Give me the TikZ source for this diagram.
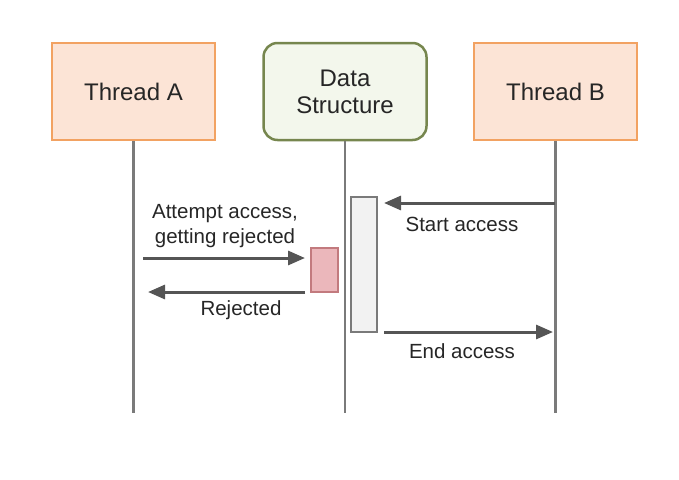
\documentclass[tikz,border=0pt]{standalone}
\usepackage{fontspec}
\setmainfont{Liberation Sans}
\usetikzlibrary{positioning,arrows.meta}
\definecolor{threadfill}{HTML}{FCE4D6}
\definecolor{threaddraw}{HTML}{F2A262}
\definecolor{datafill}{HTML}{F3F7EC}
\definecolor{datadraw}{HTML}{76864E}
\definecolor{lifegray}{HTML}{7A7A7A}
\definecolor{arrowgray}{HTML}{555555}
\definecolor{rejfill}{HTML}{EBB7BB}
\definecolor{rejdraw}{HTML}{C27A7E}

\begin{document}
\begin{tikzpicture}[x=1pt, y=-1pt, >={Triangle[length=17pt,width=14pt]},
    thread/.style={draw=threaddraw, fill=threadfill, line width=2.5pt,
      minimum width=163pt, minimum height=97pt, text=black!85,
      font=\fontsize{24}{27}\selectfont},
    datastruct/.style={thread, draw=datadraw, fill=datafill, rounded corners=14pt, align=center},
    lifeline/.style={draw=lifegray, line width=2.5pt},
    msg/.style={->, draw=arrowgray, line width=3pt},
    lbl/.style={text=black!85, align=center, font=\fontsize{20.5}{25}\selectfont},
    actbox/.style={draw=lifegray, fill=black!5, line width=1.2pt, minimum width=26pt, minimum height=135pt},
    rejbox/.style={draw=rejdraw, fill=rejfill, line width=1.2pt, minimum width=27pt, minimum height=44pt}]
				\useasboundingbox (0,0) rectangle (679,479);
				% participants
				\node[thread] (A) at (133.5,91.5) {Thread A};
				\node[datastruct] (D) at (345,91.5) {Data\\Structure};
				\node[thread] (B) at (555.5,91.5) {Thread B};
				% lifelines
				\coordinate (Aend) at (A.south |- 0,413);
				\coordinate (Dend) at (D.south |- 0,413);
				\coordinate (Bend) at (B.south |- 0,413);
				\draw[lifeline] (A.south) -- (Aend);
				\draw[lifeline] (D.south) -- (Dend);
				\draw[lifeline] (B.south) -- (Bend);
				% activations
				\node[actbox] (act) at (364,264.5) {};
				\node[rejbox] (rej) at (324.5,270) {};
				% messages
				\coordinate (bstart) at (555,203);
				\coordinate (dstart) at (384,203);
				\coordinate (atry) at (143,258);
				\coordinate (rtry) at (305,258);
				\coordinate (rback) at (305,292);
				\coordinate (aback) at (148,292);
				\coordinate (dend) at (384,332);
				\coordinate (bend) at (553,332);
				\draw[msg] (bstart) -- (dstart);
				\draw[msg] (atry) -- (rtry);
				\draw[msg] (rback) -- (aback);
				\draw[msg] (dend) -- (bend);
				% labels
				\node[lbl] (startlbl) at (462,224) {Start access};
				\node[lbl] (trylbl) at (225,226) {Attempt access,\\getting rejected};
				\node[lbl] (rejlbl) at (241,310) {Rejected};
				\node[lbl] (endlbl) at (462,351) {End access};
\end{tikzpicture}
\end{document}
